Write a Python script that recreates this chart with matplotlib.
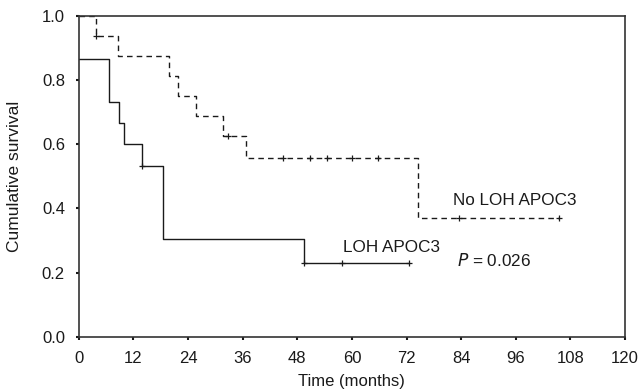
import numpy as np
import matplotlib.pyplot as plt

plt.rcParams['font.family'] = ['Liberation Sans', 'DejaVu Sans']

# LOH APOC3 (solid) step curve: times of change and survival after each
loh_times = [0, 6.7, 8.8, 9.9, 13.9, 18.6, 49.5, 72.6]
loh_surv = [0.867, 0.733, 0.667, 0.600, 0.533, 0.305, 0.229, 0.229]
loh_cens_t = [13.9, 49.5, 57.8, 72.6]
loh_cens_s = [0.533, 0.229, 0.229, 0.229]

# No LOH APOC3 (dashed)
nol_times = [0, 3.8, 8.7, 19.9, 21.8, 25.7, 31.6, 36.7, 74.6, 105.6]
nol_surv = [1.0, 0.938, 0.875, 0.813, 0.750, 0.688, 0.626, 0.556, 0.370, 0.370]
nol_cens_t = [3.8, 32.8, 44.8, 50.8, 54.6, 60.0, 65.8, 83.6, 105.6]
nol_cens_s = [0.938, 0.626, 0.556, 0.556, 0.556, 0.556, 0.556, 0.370, 0.370]

x_ticks = np.arange(0, 121, 12)
y_ticks = [0.0, 0.2, 0.4, 0.6, 0.8, 1.0]

fig = plt.figure(figsize=(6.41, 3.91), dpi=100)
ax = fig.add_axes([0.123, 0.139, 0.852, 0.82])

col = '#1a1a1a'
ax.step(loh_times, loh_surv, where='post', color=col, lw=1.0)
ax.plot(loh_cens_t, loh_cens_s, '+', color=col, ms=5, mew=0.9)
ax.step(nol_times, nol_surv, where='post', color=col, lw=1.0, ls=(0, (4, 3)))
ax.plot(nol_cens_t, nol_cens_s, '+', color=col, ms=5, mew=0.9)

ax.text(82.2, 0.426, 'No LOH APOC3', fontsize=12.3, va='center', color=col)
ax.text(58, 0.277, 'LOH APOC3', fontsize=12.3, va='center', color=col)
ax.text(83.1, 0.239, '$\\it{P}$ = 0.026', fontsize=12.3, va='center', color=col)

ax.set_xlim(0, 120)
ax.set_ylim(0, 1.0)
ax.set_xticks(x_ticks)
ax.set_yticks(y_ticks)
ax.set_yticklabels(['%.1f' % v for v in y_ticks])
ax.tick_params(direction='out', length=2, width=1.5, labelsize=12, colors=col)
ax.tick_params(axis='y', pad=8)
ax.tick_params(axis='x', pad=8)
for s in ax.spines.values():
    s.set_linewidth(1.2)
    s.set_color('#333333')

ax.set_xlabel('Time (months)', fontsize=12, color=col, va='center')
ax.set_ylabel('Cumulative survival', fontsize=12.5, color=col, va='center')
ax.xaxis.set_label_coords(0.5, -0.141)
ax.yaxis.set_label_coords(-0.117, 0.5)

fig.savefig('out.png', dpi=100)
